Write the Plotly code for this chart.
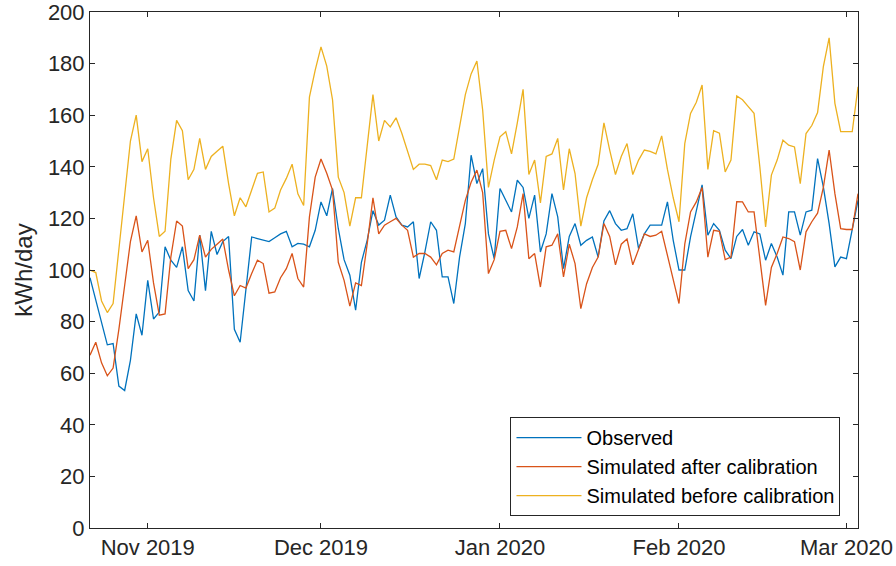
import pandas as pd
import plotly.graph_objects as go

dates = pd.date_range("2019-10-22", "2020-03-03", freq="D")

observed = [
    97, 88, 79, 71, 71.5, 55, 53.3, 65, 83, 74.7,
    96, 81, 83.7, 109, 103.8, 101, 109, 92, 88, 113.5,
    92, 115, 106, 111, 113, 77, 72, 92, 112.8, 112.2,
    111.5, 111, 112.5, 114, 115, 109, 110.3, 110, 109, 115.4,
    126.4, 121, 131.6, 116, 104, 98, 84.4, 103, 111.5, 123,
    117.4, 119.3, 129, 120.6, 117.4, 116.7, 118.7, 96.7, 107, 118.7,
    115.4, 97.3, 97.3, 87, 105, 118, 144.5, 133.5, 139.3, 114,
    104.4, 131.6, 127, 122.5, 134.8, 132, 120, 129, 107, 114,
    129.6, 120.6, 100.5, 113, 118, 109.6, 111.5, 112.8, 105, 119,
    123, 118, 115.4, 116, 121.8, 108.3, 114, 117.4, 117.4, 117.4,
    126.4, 111.5, 100, 100, 112.8, 123, 133, 113.5, 118, 115.4,
    107.7, 104.4, 113, 115.7, 109.6, 114.8, 114, 103.8, 110.3, 105,
    98, 122.5, 122.5, 113.5, 122.5, 123.2, 143.2, 132.2, 118, 101.2,
    105, 104.4, 115.4, 127,
]

sim_after = [
    67, 72, 64, 59, 62, 77, 94, 111, 121, 107,
    111.5, 95, 82.5, 83, 105, 119, 117, 100.5, 104, 113.5,
    105, 108, 110, 112, 100, 90, 94, 93, 98.6, 103.8,
    102.5, 91, 91.5, 97, 100.5, 106.4, 96.7, 93.4, 120.6, 136,
    143, 137.5, 131, 103, 96, 86, 95, 94, 110, 128,
    114, 117.4, 118.7, 120, 117.4, 115.4, 105, 106.4, 106.4, 105,
    102, 106.4, 107.7, 107, 117, 127, 134, 138.7, 130, 98.6,
    104, 115, 115.4, 108.3, 116.7, 129.6, 104.4, 106.4, 93.4, 109,
    109.6, 114, 97.3, 110, 102.5, 85, 94.7, 101, 105, 118,
    113, 102, 110, 112, 102, 107.7, 114, 113, 113.5, 115,
    106, 97, 87, 110, 122.5, 126.4, 132, 105, 115.4, 115,
    104, 105, 126.5, 126.4, 122.5, 122.5, 105, 86.3, 101, 106.4,
    112.8, 112.2, 111, 100, 114.8, 118.7, 122, 132, 146.5, 129.6,
    116, 115.7, 115.7, 129.6,
]

sim_before = [
    100, 99, 88, 83.5, 87, 108, 128, 150, 160, 142,
    147, 128, 113, 115, 143, 158, 154, 135, 139, 151,
    139, 144, 146, 148, 133.5, 121, 128, 124.5, 131, 137.5,
    138, 122.5, 124, 131, 135.5, 141, 129.5, 125, 167, 177.5,
    186.5, 179, 166, 136, 130, 117, 128, 128, 148, 168,
    150, 158, 155.5, 159, 153, 146, 139, 141, 141, 140.5,
    135, 142.6, 142, 143, 155.5, 168, 176, 181, 162, 132,
    142.6, 151.6, 153.6, 145, 157, 170, 137, 142.6, 126, 144,
    145, 151, 131, 147, 137.4, 117, 128, 135, 141, 157,
    146.5, 137, 144, 149, 137, 142.6, 146.5, 146, 145, 152,
    139, 128, 118.7, 149, 160.7, 165, 171.7, 139, 154, 153,
    138, 142.6, 167.5, 166, 163.3, 160.7, 140, 116.7, 136.8, 142.6,
    150.3, 148.4, 147.7, 133.5, 152.9, 156, 161, 178.8, 190, 164.6,
    153.6, 153.6, 153.6, 171,
]

series_names = ["Observed", "Simulated after calibration", "Simulated before calibration"]
series_colors = ["#0072BD", "#D95319", "#EDB120"]

y_ticks = [0, 20, 40, 60, 80, 100, 120, 140, 160, 180, 200]

FONT = "Liberation Sans, Arial, Helvetica, sans-serif"
AXC = "#262626"

fig = go.Figure()
for name, vals, col in zip(series_names, [observed, sim_after, sim_before], series_colors):
    fig.add_trace(go.Scatter(x=dates, y=vals, mode="lines", name=name,
                             line=dict(color=col, width=1.3)))

fig.update_layout(
    width=896, height=566,
    margin=dict(l=90, r=38, t=12, b=38, autoexpand=False),
    paper_bgcolor="white", plot_bgcolor="white",
    font=dict(family=FONT, size=22, color=AXC),
    showlegend=True,
    legend=dict(
        x=0.5475, y=0.2149, xanchor="left", yanchor="top",
        bordercolor=AXC, borderwidth=1, bgcolor="white",
        font=dict(family=FONT, size=20, color="black"),
        itemwidth=65, tracegroupgap=0, traceorder="normal",
    ),
    xaxis=dict(
        range=["2019-10-22", "2020-03-03"],
        tick0="2019-11-01", dtick="M1", tickformat="%b %Y",
        ticks="inside", ticklen=5, tickwidth=1, tickcolor=AXC,
        showline=True, linecolor=AXC, linewidth=1, mirror="allticks",
        showgrid=False, zeroline=False, ticklabeloverflow="allow",
        tickfont=dict(size=22, color=AXC),
    ),
    yaxis=dict(
        range=[0, 200], tickvals=y_ticks,
        ticks="inside", ticklen=5, tickwidth=1, tickcolor=AXC,
        showline=True, linecolor=AXC, linewidth=1, mirror="allticks",
        showgrid=False, zeroline=False, ticklabeloverflow="allow",
        tickfont=dict(size=22, color=AXC),
        title=dict(text="kWh/day", font=dict(size=24, color=AXC), standoff=8),
    ),
)

fig.write_html("out.html")
